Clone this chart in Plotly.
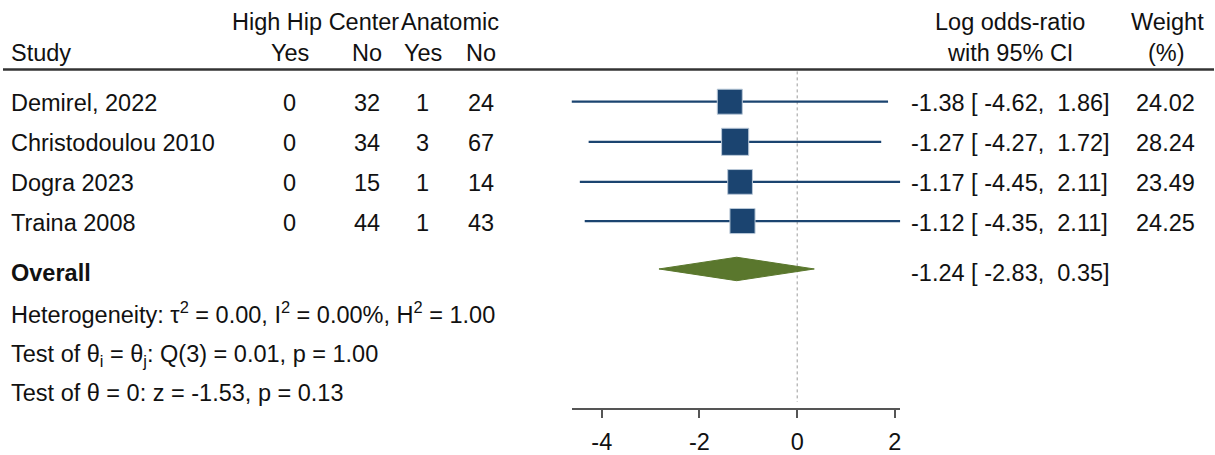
import plotly.graph_objects as go

# ---- data ----
studies = ["Demirel, 2022", "Christodoulou 2010", "Dogra 2023", "Traina 2008"]
hhc_yes = [0, 0, 0, 0]
hhc_no = [32, 34, 15, 44]
ana_yes = [1, 3, 1, 1]
ana_no = [24, 67, 14, 43]
log_or = [-1.38, -1.27, -1.17, -1.12]
ci_low = [-4.62, -4.27, -4.45, -4.35]
ci_high = [1.86, 1.72, 2.11, 2.11]
weights = [24.02, 28.24, 23.49, 24.25]

overall_est = -1.24
overall_low = -2.83
overall_high = 0.35

stats_lines = [
    "Heterogeneity: τ<sup>2</sup> = 0.00, I<sup>2</sup> = 0.00%, H<sup>2</sup> = 1.00",
    "Test of θ<sub>i</sub> = θ<sub>j</sub>: Q(3) = 0.01, p = 1.00",
    "Test of θ = 0: z = -1.53, p = 0.13",
]
x_ticks = [-4, -2, 0, 2]

# ---- layout constants ----
W, H = 1215, 455
FONT = "Liberation Sans, Arial, sans-serif"
FS = 23.5
NAVY = "#1b4470"
GREEN = "#5a772d"
AXIS_BOTTOM = 417          # pixel row of the x-axis line
mark_rows = [104, 145, 186, 226]
text_rows = [105, 146, 187, 228]
diamond_row = 275
overall_text_row = 279
stats_rows = [320, 363, 402]
header_rows = [22, 54]
rule_row = 71
PAD = 3                    # annotation inner padding

x_lo, x_hi = min(ci_low), max(ci_high)


def px(x):
    return x / W


def fmt_ci(e, lo, hi):
    s = f"{e:.2f} [{lo:6.2f},{hi:6.2f}]"
    return s.replace(" ", "\u00a0")


fig = go.Figure()

# confidence interval whiskers
for i in range(len(studies)):
    fig.add_trace(go.Scatter(
        x=[ci_low[i], ci_high[i]], y=[mark_rows[i]] * 2,
        mode="lines", line=dict(color=NAVY, width=2.2),
        hoverinfo="skip", showlegend=False))

# weighted study squares
fig.add_trace(go.Scatter(
    x=log_or, y=mark_rows, mode="markers",
    marker=dict(symbol="square", color=NAVY, opacity=1,
                size=[5.1 * w ** 0.5 for w in weights],
                line=dict(color="#b9c8d8", width=1)),
    hoverinfo="skip", showlegend=False))

# pooled estimate diamond
half_h = 12
fig.add_trace(go.Scatter(
    x=[overall_low, overall_est, overall_high, overall_est, overall_low],
    y=[diamond_row, diamond_row - half_h, diamond_row, diamond_row + half_h, diamond_row],
    mode="lines", fill="toself", fillcolor=GREEN,
    line=dict(color=GREEN, width=1), hoverinfo="skip", showlegend=False))

# null line
fig.add_shape(type="line", xref="x", yref="y", x0=0, x1=0, y0=rule_row + 2, y1=AXIS_BOTTOM - 6,
              line=dict(color="#9a9a9a", width=1, dash="dot"), layer="below")

# header rule
fig.add_shape(type="line", xref="paper", yref="y", x0=px(3), x1=1, y0=rule_row, y1=rule_row,
              line=dict(color="#333333", width=2.5))

ann = []


def text(x, y, s, anchor="left", bold=False):
    if anchor == "left":
        x -= PAD
    ann.append(dict(
        x=px(x), y=y, xref="paper", yref="y", text=f"<b>{s}</b>" if bold else s,
        showarrow=False, xanchor=anchor, yanchor="middle",
        font=dict(family=FONT, size=FS, color="#111111")))


# headers
text(12, header_rows[1], "Study")
text(233, header_rows[0], "High Hip Center")
text(402, header_rows[0], "Anatomic")
col_x = [290, 367, 423, 481]
for cx, lab in zip(col_x, ["Yes", "No", "Yes", "No"]):
    text(cx, header_rows[1], lab, "center")
text(1011, header_rows[0], "Log odds-ratio", "center")
text(1011, header_rows[1], "with 95% CI", "center")
text(1168, header_rows[0], "Weight", "center")
text(1167, header_rows[1], "(%)", "center")

# study rows
for i, s in enumerate(studies):
    y = text_rows[i]
    text(12, y, s)
    for cx, v in zip(col_x, [hhc_yes[i], hhc_no[i], ana_yes[i], ana_no[i]]):
        text(cx, y, str(v), "center")
    text(913, y, fmt_ci(log_or[i], ci_low[i], ci_high[i]))
    text(1166, y, f"{weights[i]:.2f}", "center")

# overall row and statistics
text(12, overall_text_row, "Overall", bold=True)
text(913, overall_text_row, fmt_ci(overall_est, overall_low, overall_high))
for y, s in zip(stats_rows, stats_lines):
    text(12, y, s)

fig.update_layout(
    width=W, height=H, margin=dict(l=0, r=0, t=0, b=0),
    paper_bgcolor="white", plot_bgcolor="white",
    annotations=ann,
    xaxis=dict(range=[x_lo, x_hi], domain=[572 / W, 901 / W],
               tickvals=x_ticks, ticktext=[str(t) for t in x_ticks],
               showgrid=False, zeroline=False, showline=True,
               linecolor="#555555", linewidth=2,
               ticks="outside", ticklen=8, tickwidth=2, tickcolor="#555555",
               ticklabelstandoff=4,
               tickfont=dict(family=FONT, size=FS, color="#111111")),
    yaxis=dict(range=[AXIS_BOTTOM, 0], domain=[(H - AXIS_BOTTOM) / H, 1],
               visible=False, showgrid=False, zeroline=False),
)

fig.write_html("out.html")
